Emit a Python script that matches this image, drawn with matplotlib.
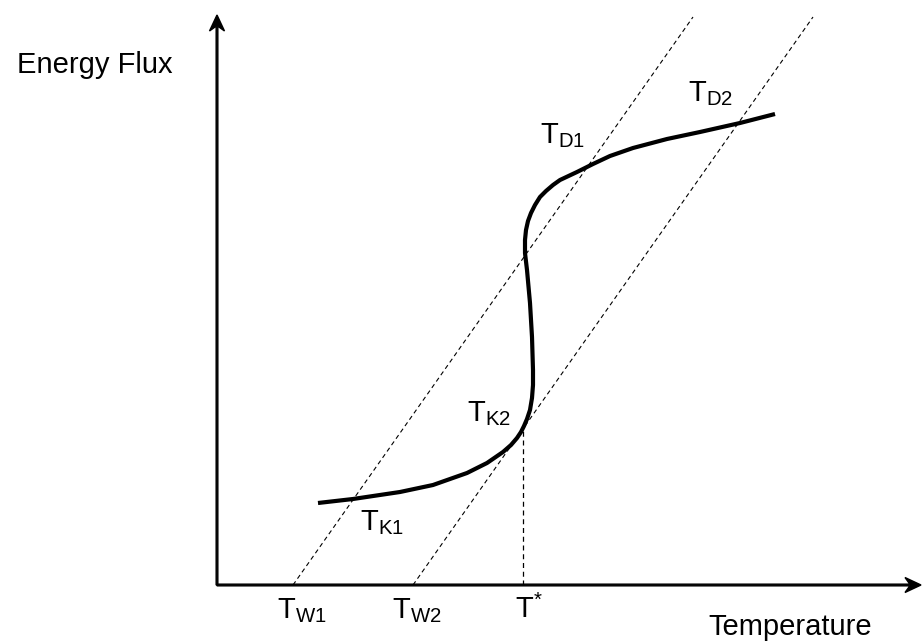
"""S-shaped energy flux curve against temperature, with two heat-loss lines."""

import matplotlib

matplotlib.use("Agg")
import matplotlib.pyplot as plt

plt.rcParams["font.family"] = ["Liberation Sans", "DejaVu Sans"]
plt.rcParams["mathtext.fontset"] = "custom"
plt.rcParams["mathtext.rm"] = "Liberation Sans"
plt.rcParams["mathtext.it"] = "Liberation Sans"

# === DATA ===

# Heat generation curve (temperature, energy flux), arbitrary units
curve_temp = [10.1, 13.6, 18.3, 21.6, 25.0, 27.0, 28.6, 29.4, 30.0, 30.4,
              30.7, 31.0, 31.3, 31.5, 31.6, 31.6, 31.5, 31.3, 31.0, 30.8,
              30.8, 30.9, 31.1, 31.4, 31.8, 32.3, 32.9, 33.6, 34.3, 36.0,
              37.6, 39.3, 41.6, 45.0, 48.3, 52.3, 55.8]
curve_flux = [8.2, 8.6, 9.3, 10.0, 11.2, 12.2, 13.3, 14.0, 14.7, 15.3,
              15.9, 16.6, 17.5, 18.7, 20.0, 21.5, 24.8, 28.2, 31.5, 33.2,
              34.5, 35.5, 36.4, 37.2, 38.0, 38.8, 39.4, 40.0, 40.5, 41.3,
              42.1, 42.9, 43.7, 44.6, 45.3, 46.2, 47.1]

# Heat-loss lines start at the wall temperatures and share one slope
wall_temps = [7.6, 19.6]
loss_slope = 1.42
loss_top = 56.8

# Ignition temperature T*
t_star = 30.6

# === FIGURE ===

fig = plt.figure(figsize=(9.22, 6.43), dpi=100)
ax = fig.add_axes([0, 0, 1, 1])
ax.set_xlim(-21.7, 70.5)
ax.set_ylim(-5.8, 58.5)
ax.axis("off")

# axes with arrow heads
arrow_kw = dict(width=0.17, head_width=1.5, head_length=1.6, overhang=0.3,
                length_includes_head=True, color="black", clip_on=False)
ax.arrow(0, 0, 0, 57.0, **arrow_kw)
ax.arrow(0, 0, 70.4, 0, **arrow_kw)

# heat-loss lines
dash = (0, (4, 3))
for tw in wall_temps:
    t_end = tw + loss_top / loss_slope
    ax.plot([tw, t_end], [0, loss_top], color="black", lw=0.8, linestyle=dash)

# vertical marker at T*, up to the second loss line
star_flux = (t_star - wall_temps[1]) * loss_slope
ax.plot([t_star, t_star], [0, star_flux], color="black", lw=0.9, linestyle=dash)

# S-curve
ax.plot(curve_temp, curve_flux, color="black", lw=3.0,
        solid_joinstyle="round", solid_capstyle="butt")

# labels
fs = 21
ax.text(-20.0, 51.2, "Energy Flux", fontsize=fs, va="baseline", ha="left")
ax.text(65.5, -5.0, "Temperature", fontsize=fs, va="baseline", ha="right")

labels = [
    (6.0, -3.3, r"$\mathrm{T_{W1}}$"),
    (17.5, -3.3, r"$\mathrm{T_{W2}}$"),
    (29.8, -3.3, r"$\mathrm{T^{*}}$"),
    (14.3, 5.5, r"$\mathrm{T_{K1}}$"),
    (25.0, 16.4, r"$\mathrm{T_{K2}}$"),
    (32.3, 44.2, r"$\mathrm{T_{D1}}$"),
    (47.1, 48.4, r"$\mathrm{T_{D2}}$"),
]
for x, y, s in labels:
    ax.text(x, y, s, fontsize=fs, va="baseline", ha="left")

fig.savefig("out.png", dpi=100, facecolor="white")
